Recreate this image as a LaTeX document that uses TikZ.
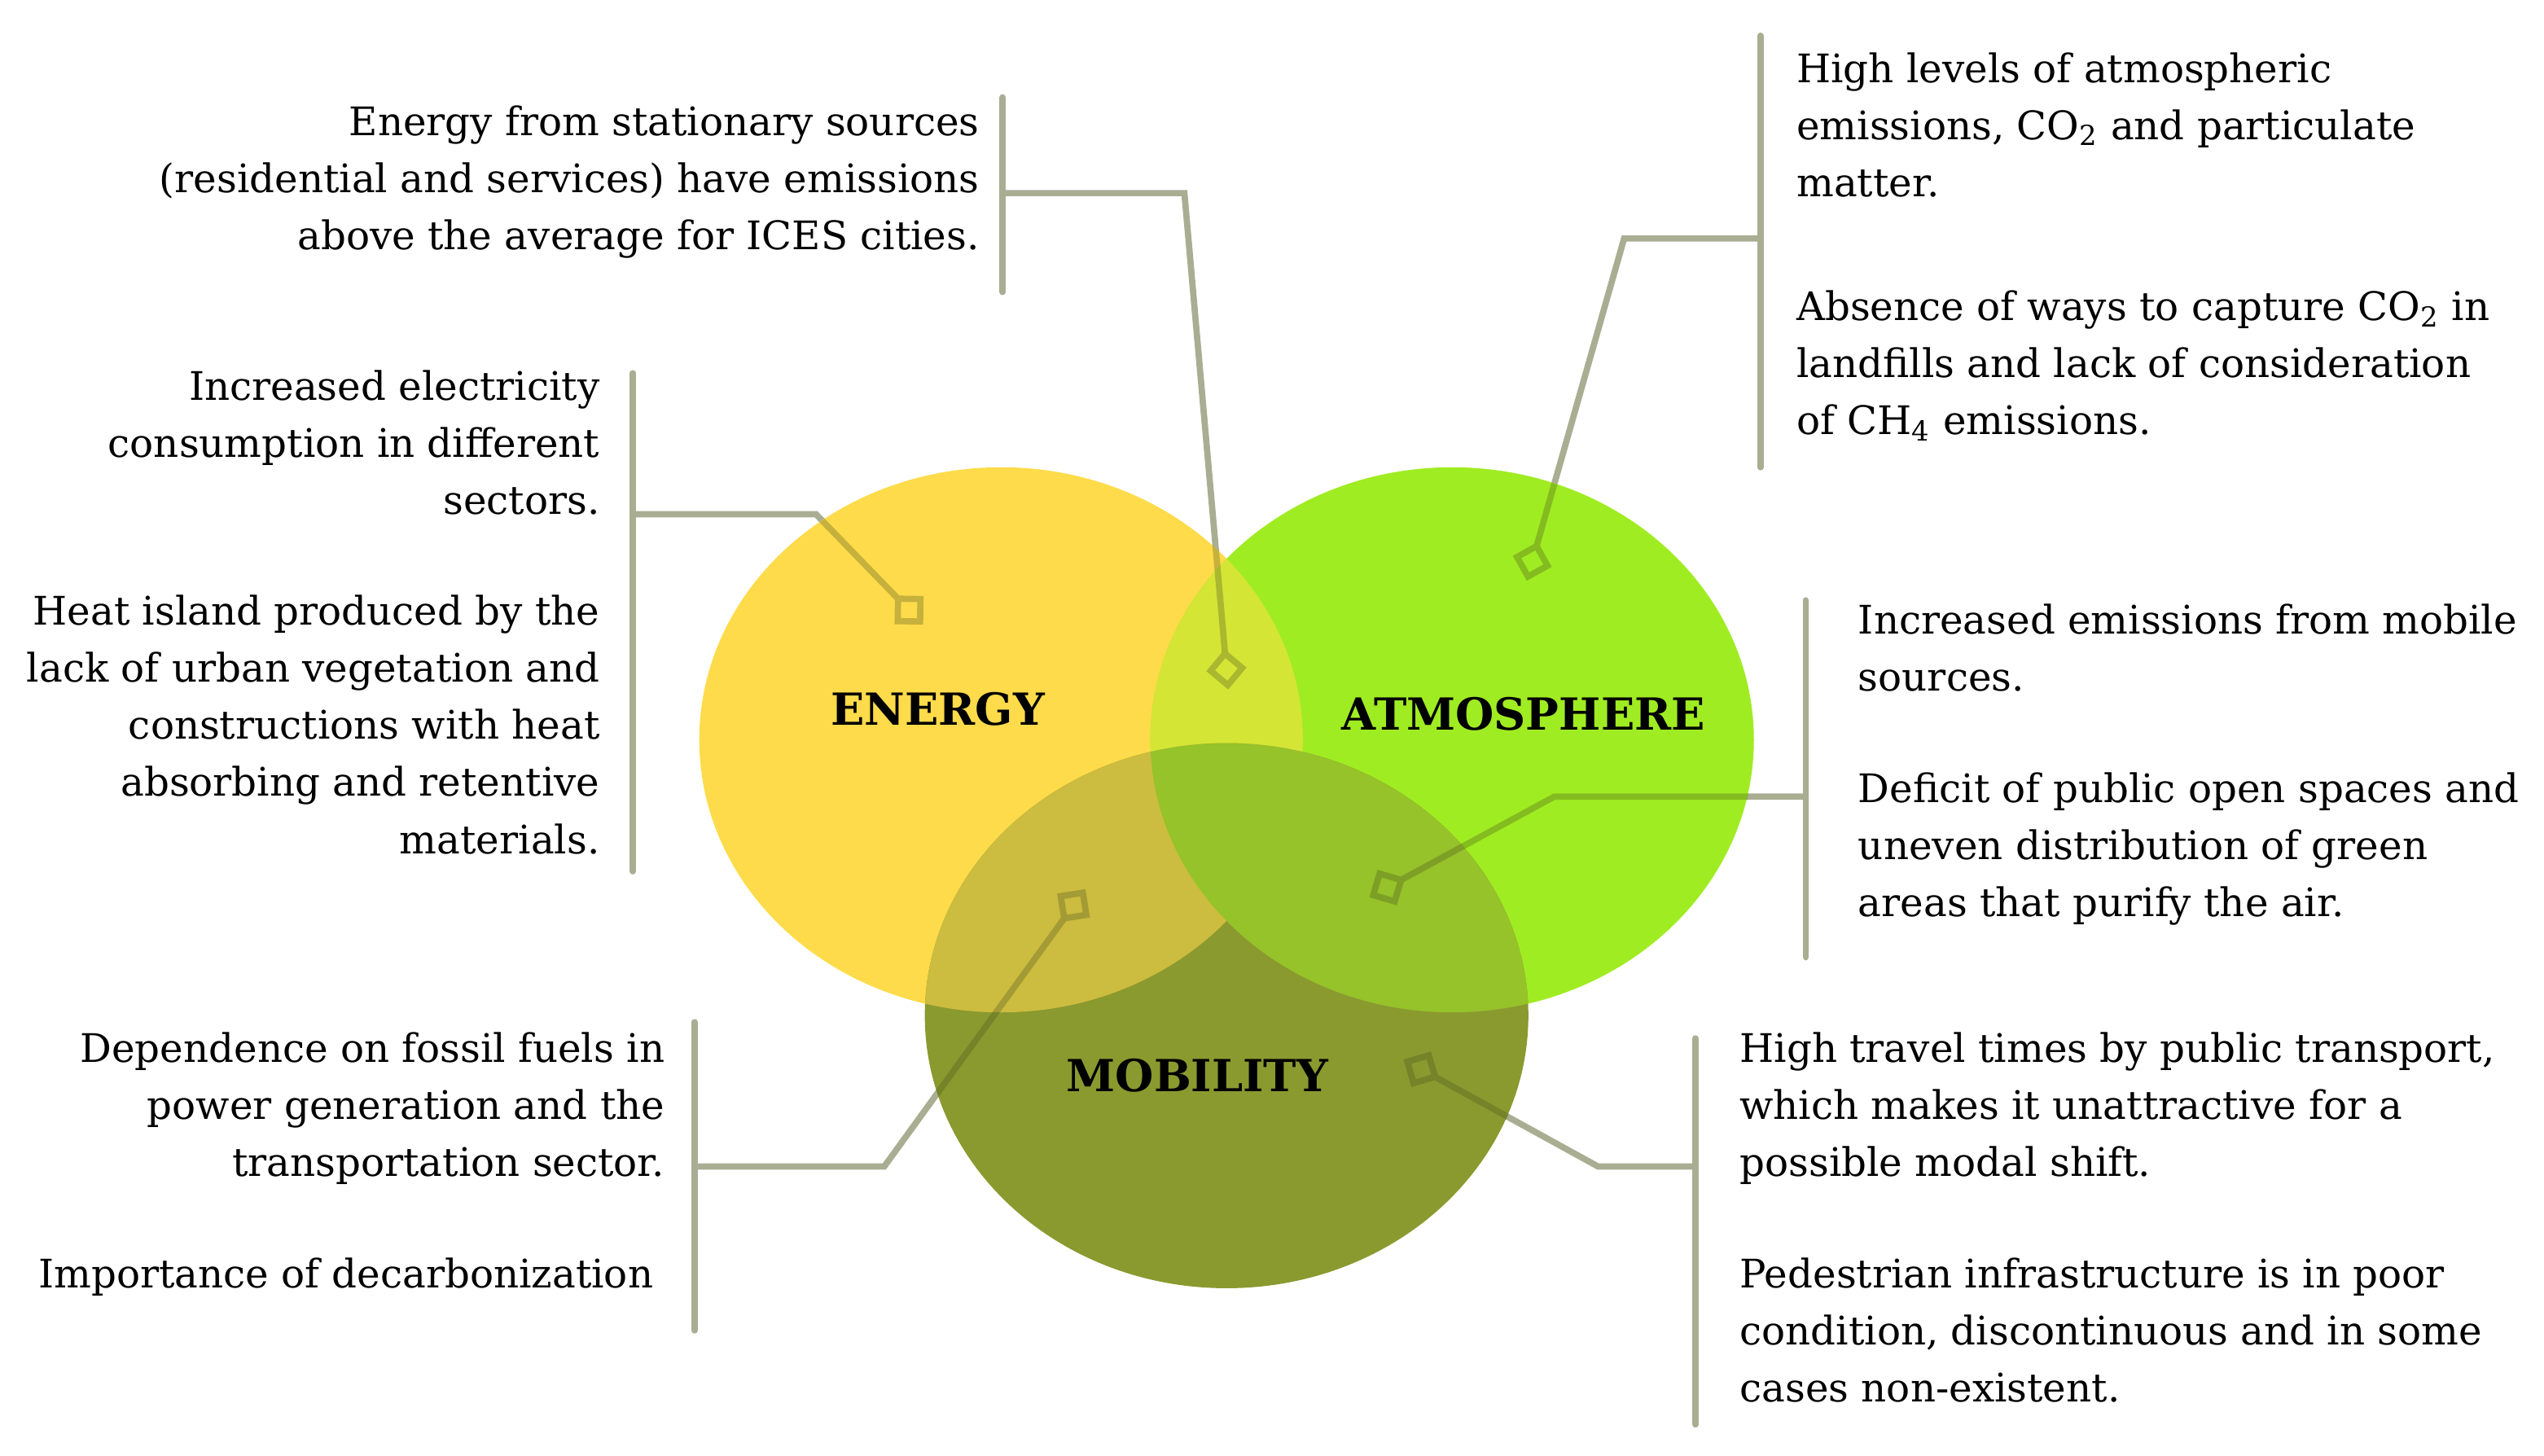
\documentclass[tikz,border=0pt]{standalone}
\usepackage{fontspec}
\setmainfont{DejaVu Serif}
\usepackage{xcolor}
\usepackage{tikz}
\usetikzlibrary{arrows.meta}

\definecolor{energycol}{HTML}{FEDB4A}
\definecolor{atmocol}{HTML}{A0EC22}
\definecolor{mobcol}{HTML}{8A9A2F}
\definecolor{eacol}{HTML}{D5E535}
\definecolor{emcol}{HTML}{CCBC3F}
\definecolor{amcol}{HTML}{96C22A}
\definecolor{eamcol}{HTML}{D3D33D}
\definecolor{linkcol}{HTML}{A9AE93}
\definecolor{linkdark}{RGB}{70,80,30}

\newcommand{\energyshape}{(617,456) ellipse [x radius=186, y radius=168]}
\newcommand{\atmoshape}{(895,456) ellipse [x radius=186, y radius=168]}
\newcommand{\mobshape}{(756,626) ellipse [x radius=186, y radius=168]}

\tikzset{
  note/.style={inner sep=0pt, font=\fontsize{13.8}{20}\selectfont},
  noteL/.style={note, align=left, anchor=base west},
  noteR/.style={note, align=right, anchor=base east},
  topic/.style={inner sep=0pt, font=\bfseries\fontsize{15.5}{18}\selectfont},
  bar/.style={linkcol, line width=2.2pt, line cap=round},
  link/.style={linkcol, line width=2.2pt, -{Diamond[open,length=0.5cm,width=0.5cm]}},
}

\begin{document}
\begin{tikzpicture}[x=0.02cm,y=-0.02cm]
  \useasboundingbox (0,0) rectangle (1568,897);

  % connector end points
  \coordinate (stat-top) at (618,60);    \coordinate (stat-bot) at (618,180);
  \coordinate (stat-join) at (618,119);  \coordinate (stat-bend) at (730,119);
  \coordinate (stat-dot) at (757,425);
  \coordinate (elec-top) at (390,230);   \coordinate (elec-bot) at (390,537);
  \coordinate (elec-join) at (390,317);  \coordinate (elec-bend) at (503,317);
  \coordinate (elec-dot) at (569,385);
  \coordinate (atmo-top) at (1085,22);   \coordinate (atmo-bot) at (1085,288);
  \coordinate (atmo-join) at (1085,147); \coordinate (atmo-bend) at (1001,147);
  \coordinate (atmo-dot) at (941,358);
  \coordinate (air-top) at (1113,370);   \coordinate (air-bot) at (1113,590);
  \coordinate (air-join) at (1113,491);  \coordinate (air-bend) at (958,491);
  \coordinate (air-dot) at (844,553);
  \coordinate (fuel-top) at (428,630);   \coordinate (fuel-bot) at (428,820);
  \coordinate (fuel-join) at (428,719);  \coordinate (fuel-bend) at (545,719);
  \coordinate (fuel-dot) at (669,548);
  \coordinate (trip-top) at (1045,640);  \coordinate (trip-bot) at (1045,878);
  \coordinate (trip-join) at (1045,719); \coordinate (trip-bend) at (985,719);
  \coordinate (trip-dot) at (865,653);

  \foreach \k in {stat,elec,atmo,air,fuel,trip} {
    \draw[bar] (\k-top) -- (\k-bot);
    \draw[link] (\k-join) -- (\k-bend) -- (\k-dot);
  }

  % the three sets
  \fill[energycol] \energyshape;
  \fill[atmocol] \atmoshape;
  \fill[mobcol] \mobshape;
  \begin{scope}
    \clip \energyshape;
    \fill[eacol] \atmoshape;
    \fill[emcol] \mobshape;
    \clip \atmoshape;
    \fill[eamcol] \mobshape;
  \end{scope}
  \begin{scope}
    \clip \atmoshape;
    \fill[amcol] \mobshape;
  \end{scope}

  % connectors seen through the sets
  \begin{scope}
    \clip \energyshape \atmoshape \mobshape;
    \begin{scope}[transparency group, opacity=0.3]
      \foreach \k in {stat,elec,atmo,air,fuel,trip}
        \draw[link, linkdark] (\k-join) -- (\k-bend) -- (\k-dot);
    \end{scope}
  \end{scope}

  \node[topic] (energy) at (578,437) {ENERGY};
  \node[topic] (atmosphere) at (939,440) {ATMOSPHERE};
  \node[topic] (mobility) at (738,663) {MOBILITY};

  % base = baseline of the last line
  \node[noteR] (stat) at (604,154) {Energy from stationary sources\\(residential and services) have emissions\\above the average for ICES cities.};
  \node[noteR] (elec) at (370,317) {Increased electricity\\consumption in different\\sectors.};
  \node[noteR] (heat) at (370,526) {Heat island produced by the\\lack of urban vegetation and\\constructions with heat\\absorbing and retentive\\materials.};
  \node[noteL] (levels) at (1107,121) {High levels of atmospheric\\emissions, CO\textsubscript{2} and particulate\\matter.};
  \node[noteL] (capture) at (1107,268) {Absence of ways to capture CO\textsubscript{2} in\\landfills and lack of consideration\\of CH\textsubscript{4} emissions.};
  \node[noteL] (mobile) at (1145,426) {Increased emissions from mobile\\sources.};
  \node[noteL] (green) at (1145,565) {Deficit of public open spaces and\\uneven distribution of green\\areas that purify the air.};
  \node[noteR] (fossil) at (410,725) {Dependence on fossil fuels in\\power generation and the\\transportation sector.};
  \node[noteR] (decarb) at (403,794) {Importance of decarbonization};
  \node[noteL] (travel) at (1072,725) {High travel times by public transport,\\which makes it unattractive for a\\possible modal shift.};
  \node[noteL] (walk) at (1072,864) {Pedestrian infrastructure is in poor\\condition, discontinuous and in some\\cases non-existent.};
\end{tikzpicture}
\end{document}
